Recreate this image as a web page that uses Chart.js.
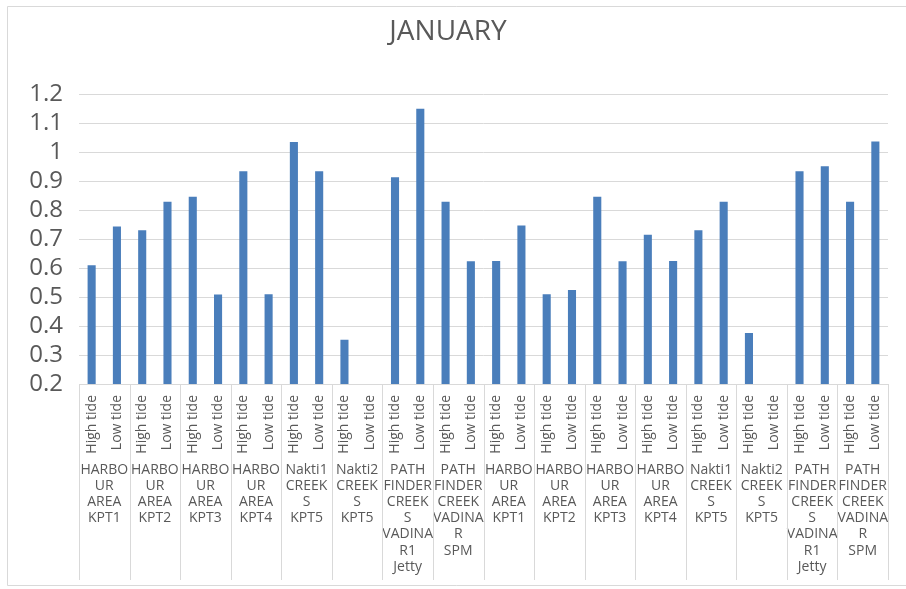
<!DOCTYPE html>
<html>
<head>
<meta charset="utf-8">
<title>JANUARY</title>
<script src="https://cdn.jsdelivr.net/npm/chart.js@4.4.1/dist/chart.umd.min.js"></script>
<style>
    html, body { margin: 0; padding: 0; background: #fff; }
    #wrap { width: 906px; height: 589px; }
</style>
</head>
<body>
<div id="wrap"><canvas id="tideChart" width="906" height="589"></canvas></div>
<script>
    const stations = [
        ["HARBO", "UR", "AREA", "KPT1"],
        ["HARBO", "UR", "AREA", "KPT2"],
        ["HARBO", "UR", "AREA", "KPT3"],
        ["HARBO", "UR", "AREA", "KPT4"],
        ["Nakti1", "CREEK", "S", "KPT5"],
        ["Nakti2", "CREEK", "S", "KPT5"],
        ["PATH", "FINDER", "CREEK", "S", "VADINA", "R1", "Jetty"],
        ["PATH", "FINDER", "CREEK", "VADINA", "R", "SPM"],
        ["HARBO", "UR", "AREA", "KPT1"],
        ["HARBO", "UR", "AREA", "KPT2"],
        ["HARBO", "UR", "AREA", "KPT3"],
        ["HARBO", "UR", "AREA", "KPT4"],
        ["Nakti1", "CREEK", "S", "KPT5"],
        ["Nakti2", "CREEK", "S", "KPT5"],
        ["PATH", "FINDER", "CREEK", "S", "VADINA", "R1", "Jetty"],
        ["PATH", "FINDER", "CREEK", "VADINA", "R", "SPM"]
    ];
    const tides = ["High tide", "Low tide"];
    const highTide = [0.61, 0.731, 0.847, 0.935, 1.036, 0.353, 0.914, 0.83, 0.625, 0.51, 0.847, 0.716, 0.731, 0.376, 0.935, 0.83];
    const lowTide = [0.744, 0.83, 0.509, 0.51, 0.935, null, 1.151, 0.624, 0.748, 0.525, 0.624, 0.625, 0.83, null, 0.952, 1.038];
    const yTicks = [0.2, 0.3, 0.4, 0.5, 0.6, 0.7, 0.8, 0.9, 1, 1.1, 1.2];
    const yTickLabels = ["0.2", "0.3", "0.4", "0.5", "0.6", "0.7", "0.8", "0.9", "1", "1.1", "1.2"];

    const textColor = "#595959";
    const lineColor = "#d9d9d9";
    const fontFamily = "'Open Sans', sans-serif";

    // one bar per station and tide, in High/Low order
    const labels = stations.flatMap(() => tides);
    const values = stations.flatMap((_, i) => [highTide[i], lowTide[i]]);

    // separators between station groups, running down through both label rows
    const groupLines = {
        id: "groupLines",
        afterDraw(chart) {
            const { ctx, chartArea, scales } = chart;
            const x = scales.x;
            const bottom = scales.x2.bottom - 4;
            ctx.save();
            ctx.strokeStyle = lineColor;
            ctx.lineWidth = 1;
            for (let g = 0; g <= stations.length; g += 1) {
                let px;
                if (g === 0) px = chartArea.left;
                else if (g === stations.length) px = chartArea.right;
                else px = (x.getPixelForValue(g * 2) + x.getPixelForValue(g * 2 - 1)) / 2;
                ctx.beginPath();
                ctx.moveTo(Math.round(px) + 0.5, chartArea.bottom);
                ctx.lineTo(Math.round(px) + 0.5, bottom);
                ctx.stroke();
            }
            ctx.restore();
        }
    };

    // the outer chart frame; its right side runs off the picture
    const frame = {
        id: "frame",
        beforeDraw(chart) {
            const { ctx, width } = chart;
            ctx.save();
            ctx.fillStyle = "#fff";
            ctx.fillRect(0, 0, width, chart.height);
            ctx.strokeStyle = lineColor;
            ctx.beginPath();
            ctx.moveTo(width, 6.5);
            ctx.lineTo(7.5, 6.5);
            ctx.lineTo(7.5, 585.5);
            ctx.lineTo(width, 585.5);
            ctx.stroke();
            ctx.restore();
        }
    };

    new Chart(document.getElementById("tideChart"), {
        type: "bar",
        data: {
            labels,
            datasets: [{ label: "January", data: values, backgroundColor: "#4a7ebb", barPercentage: 0.32, categoryPercentage: 1 }]
        },
        options: {
            responsive: false,
            animation: false,
            layout: { padding: { left: 8, right: 18, top: 0, bottom: 5 } },
            scales: {
                y: {
                    min: 0.2,
                    max: 1.2,
                    afterBuildTicks: (scale) => { scale.ticks = yTicks.map((v) => ({ value: v })); },
                    afterFit: (scale) => { scale.width = 71; },
                    border: { display: false },
                    grid: { color: lineColor, drawTicks: false },
                    ticks: {
                        color: textColor,
                        padding: 16,
                        autoSkip: false,
                        callback: (value, index) => yTickLabels[index],
                        font: { family: fontFamily, size: 24 }
                    }
                },
                x: {
                    grid: { display: false },
                    border: { color: lineColor },
                    afterFit: (scale) => { scale.height = 76; },
                    ticks: { color: textColor, minRotation: 90, maxRotation: 90, autoSkip: false, padding: 3, font: { family: fontFamily, size: 14 } }
                },
                x2: {
                    type: "category",
                    position: "bottom",
                    labels: stations,
                    offset: true,
                    grid: { display: false, drawTicks: false },
                    border: { display: false },
                    afterFit: (scale) => { scale.height = 124; },
                    ticks: { color: textColor, autoSkip: false, maxRotation: 0, padding: 2, font: { family: fontFamily, size: 14, lineHeight: 1.15 } }
                }
            },
            plugins: {
                legend: { display: false },
                tooltip: { enabled: false },
                title: {
                    display: true,
                    text: "JANUARY",
                    color: textColor,
                    padding: { top: 15, bottom: 46 },
                    font: { family: fontFamily, size: 28, weight: "normal" }
                }
            }
        },
        plugins: [frame, groupLines]
    });
</script>
</body>
</html>
